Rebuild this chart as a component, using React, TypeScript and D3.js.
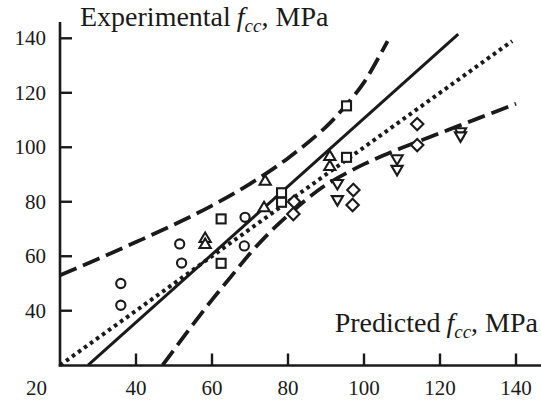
import React from "react";
import * as d3 from "d3";

const xTicks = [40, 60, 80, 100, 120, 140];
const yTicks = [40, 60, 80, 100, 120, 140];

const circles: [number, number][] = [[36, 50], [36, 42], [51.5, 64.5], [52, 57.5], [68.7, 74.3], [68.5, 63.8]];
const trianglesUp: [number, number][] = [[58.2, 66.7], [58.2, 64.5], [74, 87.7], [73.7, 78], [91, 96.8], [91, 93.1]];
const squares: [number, number][] = [[62.4, 73.7], [62.4, 57.4], [78.3, 83.3], [78.3, 79.8], [95.4, 96.3], [95.4, 115.2]];
const diamonds: [number, number][] = [[81.6, 80], [81.4, 75.5], [97.2, 84.3], [97, 78.8], [114, 108.5], [114, 100.8]];
const trianglesDown: [number, number][] = [[93, 86.5], [93, 80.6], [108.7, 95.6], [108.7, 91.7], [125.4, 105.5], [125.4, 104]];

const equalityLine: [number, number][] = [[20, 20], [139, 139]];
const regressionLine: [number, number][] = [[27.4, 20], [124.8, 141.5]];
const upperBand: [number, number][] = [[20, 53], [30, 59], [40, 65.2], [50, 71.6], [60, 78.6], [70, 86.6], [80, 96], [90, 107.5], [95, 115], [100, 123.8], [106.2, 139]];
const lowerBand: [number, number][] = [[47, 20], [55, 35], [60, 44], [65, 52.5], [70, 61], [75, 68.5], [80, 75], [85, 81], [90, 86.2], [100, 93.8], [110, 99.8], [120, 105.2], [130, 110.6], [140, 116]];

const W = 541;
const H = 402;
const FONT = '"Liberation Serif", "DejaVu Serif", "Times New Roman", serif';

export default function App() {
  const x = d3.scaleLinear().domain([20, 140]).range([60, 516]);
  const y = d3.scaleLinear().domain([20, 140]).range([365.2, 38.3]);
  const line = d3.line<[number, number]>().x((d) => x(d[0])).y((d) => y(d[1]));
  const curve = d3.line<[number, number]>().x((d) => x(d[0])).y((d) => y(d[1])).curve(d3.curveCatmullRom.alpha(0.5));

  const stroke = "#1a1a1a";
  const mk = { fill: "#fff", stroke, strokeWidth: 2.1 };
  const ts = { fontFamily: FONT };

  return (
    <svg width={W} height={H} style={{ position: "fixed", left: 0, top: 0, background: "#fff" }}>
      <rect width={W} height={H} fill="#fff" />
      {/* axes */}
      <line x1={60} x2={60} y1={22} y2={366.5} stroke={stroke} strokeWidth={2.6} />
      <line x1={58.7} x2={541} y1={365.5} y2={365.5} stroke={stroke} strokeWidth={2.6} />
      {yTicks.map((t) => (
        <g key={"y" + t}>
          <line x1={60} x2={72} y1={y(t)} y2={y(t)} stroke={stroke} strokeWidth={2.4} />
          <text x={46} y={y(t) + 7} textAnchor="end" fontSize={21} fill={stroke} style={ts}>{t}</text>
        </g>
      ))}
      {xTicks.map((t) => (
        <g key={"x" + t}>
          <line x1={x(t)} x2={x(t)} y1={365.5} y2={353.5} stroke={stroke} strokeWidth={2.4} />
          <text x={x(t)} y={395} textAnchor="middle" fontSize={21} fill={stroke} style={ts}>{t}</text>
        </g>
      ))}
      <text x={36.5} y={395} textAnchor="middle" fontSize={21} fill={stroke} style={ts}>20</text>

      {/* lines */}
      <path d={line(equalityLine) ?? ""} fill="none" stroke={stroke} strokeWidth={4} strokeDasharray="3.6,3.8" />
      <path d={line(regressionLine) ?? ""} fill="none" stroke={stroke} strokeWidth={3} />
      <path d={curve(upperBand) ?? ""} fill="none" stroke={stroke} strokeWidth={3.8} strokeDasharray="18,7" />
      <path d={curve(lowerBand) ?? ""} fill="none" stroke={stroke} strokeWidth={3.8} strokeDasharray="18,7" />

      {/* markers */}
      {circles.map((d, i) => (
        <circle key={"c" + i} cx={x(d[0])} cy={y(d[1])} r={4.6} {...mk} />
      ))}
      {squares.map((d, i) => (
        <rect key={"s" + i} x={x(d[0]) - 4.5} y={y(d[1]) - 4.5} width={9} height={9} {...mk} />
      ))}
      {diamonds.map((d, i) => (
        <path key={"d" + i} d={`M${x(d[0])},${y(d[1]) - 6.2}L${x(d[0]) + 6.2},${y(d[1])}L${x(d[0])},${y(d[1]) + 6.2}L${x(d[0]) - 6.2},${y(d[1])}Z`} {...mk} />
      ))}
      {trianglesUp.map((d, i) => (
        <path key={"tu" + i} d={`M${x(d[0])},${y(d[1]) - 5.5}L${x(d[0]) + 5.6},${y(d[1]) + 4}L${x(d[0]) - 5.6},${y(d[1]) + 4}Z`} {...mk} />
      ))}
      {trianglesDown.map((d, i) => (
        <path key={"td" + i} d={`M${x(d[0])},${y(d[1]) + 5.5}L${x(d[0]) + 5.6},${y(d[1]) - 4}L${x(d[0]) - 5.6},${y(d[1]) - 4}Z`} {...mk} />
      ))}

      {/* titles */}
      <text x={80} y={26} fontSize={28} fill={stroke} style={ts}>
        Experimental
        <tspan dx={6} fontStyle="italic">f</tspan>
        <tspan fontStyle="italic" fontSize={19} dy={6}>cc</tspan>
        <tspan dy={-6}>, MPa</tspan>
      </text>
      <text x={538} y={332} fontSize={28} fill={stroke} textAnchor="end" style={ts}>
        Predicted
        <tspan dx={6} fontStyle="italic">f</tspan>
        <tspan fontStyle="italic" fontSize={19} dy={6}>cc</tspan>
        <tspan dy={-6}>, MPa</tspan>
      </text>
    </svg>
  );
}
